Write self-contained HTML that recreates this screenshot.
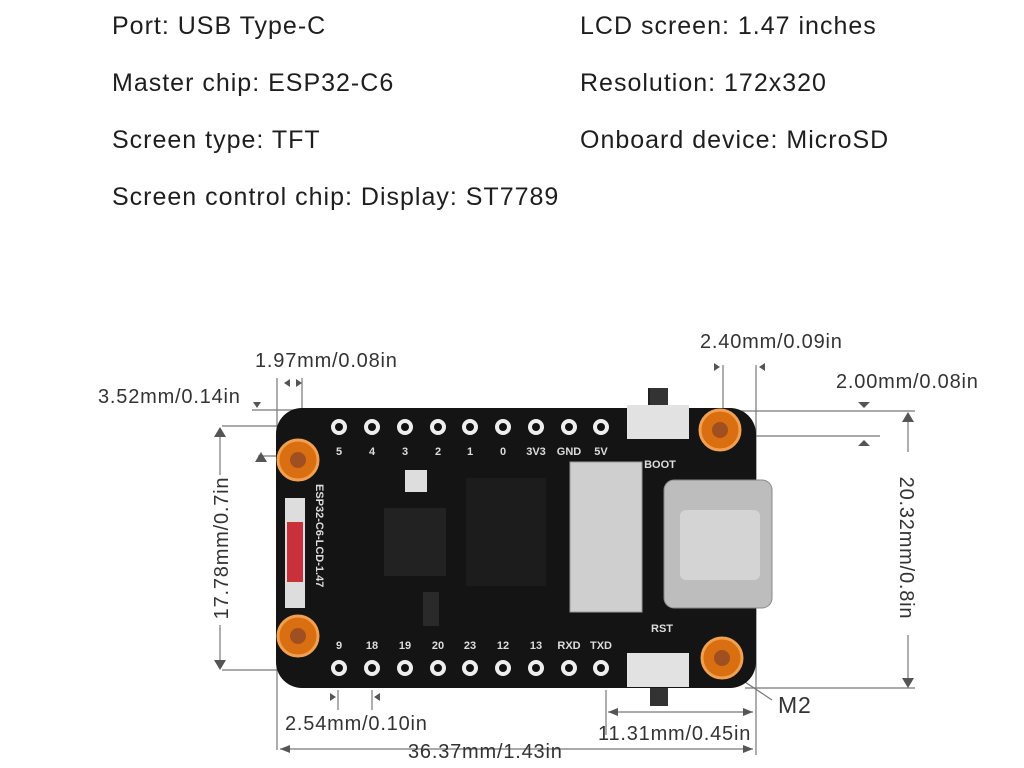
<!DOCTYPE html>
<html><head><meta charset="utf-8"><style>
html,body{margin:0;padding:0;background:#fff;}
body{width:1024px;height:768px;overflow:hidden;position:relative;font-family:"Liberation Sans",sans-serif;}
.t{position:absolute;font-size:25px;letter-spacing:1px;color:#1e1e1e;white-space:nowrap;}
</style></head><body>
<div class="t" style="left:112px;top:12px">Port: USB Type-C</div>
<div class="t" style="left:112px;top:69px">Master chip: ESP32-C6</div>
<div class="t" style="left:112px;top:126px">Screen type: TFT</div>
<div class="t" style="left:112px;top:183px">Screen control chip: Display: ST7789</div>
<div class="t" style="left:580px;top:12px">LCD screen: 1.47 inches</div>
<div class="t" style="left:580px;top:69px">Resolution: 172x320</div>
<div class="t" style="left:580px;top:126px">Onboard device: MicroSD</div>
<svg width="1024" height="768" style="position:absolute;left:0;top:0" font-family="Liberation Sans, sans-serif">
<g stroke="#777" stroke-width="1.2" fill="none">
<line x1="277" y1="378" x2="277" y2="750"/>
<line x1="302" y1="378" x2="302" y2="420"/>
<line x1="252" y1="410" x2="300" y2="410"/>
<line x1="222" y1="426" x2="285" y2="426"/>
<line x1="258" y1="456" x2="285" y2="456"/>
<line x1="222" y1="670" x2="285" y2="670"/>
<line x1="220" y1="430" x2="220" y2="475"/>
<line x1="220" y1="625" x2="220" y2="665"/>
<line x1="338" y1="690" x2="338" y2="710"/>
<line x1="372" y1="690" x2="372" y2="710"/>
<line x1="723" y1="365" x2="723" y2="410"/>
<line x1="756" y1="365" x2="756" y2="755"/>
<line x1="740" y1="411" x2="915" y2="411"/>
<line x1="756" y1="436" x2="880" y2="436"/>
<line x1="908" y1="418" x2="908" y2="452"/>
<line x1="908" y1="635" x2="908" y2="683"/>
<line x1="745" y1="688" x2="915" y2="688"/>
<line x1="606" y1="690" x2="606" y2="735"/>
<line x1="608" y1="712" x2="753" y2="712"/>
<line x1="280" y1="749" x2="753" y2="749"/>
<line x1="742" y1="680" x2="772" y2="700"/>
</g>
<g fill="#555">
<polygon points="284,383 290,379 290,387"/><polygon points="296,383 290,379 290,387" transform="translate(6,0)"/>
<polygon points="258,404 262,410 266,404" transform="translate(-5,-2)"/>
<polygon points="258,462 264,452 270,462" transform="translate(-3,0)"/>
<polygon points="214,437 220,427 226,437"/><polygon points="214,660 220,670 226,660"/>
<polygon points="330,693 336,697 330,701"/><polygon points="380,693 374,697 380,701"/>
<polygon points="714,363 720,367 714,371"/><polygon points="765,363 759,367 765,371"/>
<polygon points="860,402 866,408 872,402" transform="translate(-2,0)"/>
<polygon points="860,446 866,440 872,446" transform="translate(-2,0)"/>
<polygon points="902,422 908,412 914,422"/><polygon points="902,678 908,688 914,678"/>
<polygon points="608,712 618,708 618,716"/><polygon points="753,712 743,708 743,716"/>
<polygon points="280,749 290,745 290,753"/><polygon points="753,749 743,745 743,753"/>
</g>
<g font-size="20" fill="#333" letter-spacing="0.8">
<text x="255" y="367">1.97mm/0.08in</text>
<text x="98" y="403">3.52mm/0.14in</text>
<text x="700" y="348">2.40mm/0.09in</text>
<text x="836" y="388">2.00mm/0.08in</text>
<text x="285" y="730">2.54mm/0.10in</text>
<text x="598" y="740">11.31mm/0.45in</text>
<text x="408" y="758">36.37mm/1.43in</text>
<text x="778" y="713" font-size="23">M2</text>
<text transform="translate(228,548) rotate(-90)" text-anchor="middle">17.78mm/0.7in</text>
<text transform="translate(900,548) rotate(90)" text-anchor="middle">20.32mm/0.8in</text>
</g>
<rect x="648" y="388" width="20" height="300" fill="#222"/>
<rect x="650" y="388" width="18" height="20" fill="#333"/>
<rect x="650" y="686" width="18" height="20" fill="#333"/>
<rect x="276" y="408" width="480" height="280" rx="26" fill="#141414"/>
<g fill="#eee">
<circle cx="339" cy="427" r="8"/><circle cx="372" cy="427" r="8"/><circle cx="405" cy="427" r="8"/><circle cx="438" cy="427" r="8"/><circle cx="470" cy="427" r="8"/><circle cx="503" cy="427" r="8"/><circle cx="536" cy="427" r="8"/><circle cx="569" cy="427" r="8"/><circle cx="601" cy="427" r="8"/>
<circle cx="339" cy="668" r="8"/><circle cx="372" cy="668" r="8"/><circle cx="405" cy="668" r="8"/><circle cx="438" cy="668" r="8"/><circle cx="470" cy="668" r="8"/><circle cx="503" cy="668" r="8"/><circle cx="536" cy="668" r="8"/><circle cx="569" cy="668" r="8"/><circle cx="601" cy="668" r="8"/>
</g>
<g fill="#111">
<circle cx="339" cy="427" r="4"/><circle cx="372" cy="427" r="4"/><circle cx="405" cy="427" r="4"/><circle cx="438" cy="427" r="4"/><circle cx="470" cy="427" r="4"/><circle cx="503" cy="427" r="4"/><circle cx="536" cy="427" r="4"/><circle cx="569" cy="427" r="4"/><circle cx="601" cy="427" r="4"/>
<circle cx="339" cy="668" r="4"/><circle cx="372" cy="668" r="4"/><circle cx="405" cy="668" r="4"/><circle cx="438" cy="668" r="4"/><circle cx="470" cy="668" r="4"/><circle cx="503" cy="668" r="4"/><circle cx="536" cy="668" r="4"/><circle cx="569" cy="668" r="4"/><circle cx="601" cy="668" r="4"/>
</g>
<g font-size="11" font-weight="bold" fill="#ddd" text-anchor="middle">
<text x="339" y="455">5</text><text x="372" y="455">4</text><text x="405" y="455">3</text><text x="438" y="455">2</text><text x="470" y="455">1</text><text x="503" y="455">0</text><text x="536" y="455">3V3</text><text x="569" y="455">GND</text><text x="601" y="455">5V</text>
<text x="339" y="649">9</text><text x="372" y="649">18</text><text x="405" y="649">19</text><text x="438" y="649">20</text><text x="470" y="649">23</text><text x="503" y="649">12</text><text x="536" y="649">13</text><text x="569" y="649">RXD</text><text x="601" y="649">TXD</text>
<text x="660" y="468">BOOT</text><text x="662" y="632">RST</text>
</g>
<text transform="translate(316,484) rotate(90)" font-size="11" font-weight="bold" fill="#ddd">ESP32-C6-LCD-1.47</text>
<rect x="384" y="508" width="62" height="68" fill="#222"/>
<rect x="466" y="478" width="80" height="108" fill="#1c1c1c"/>
<rect x="423" y="592" width="16" height="34" fill="#2a2a2a"/>
<rect x="405" y="470" width="22" height="22" fill="#ddd"/>
<rect x="285" y="498" width="20" height="110" fill="#ddd"/>
<rect x="287" y="522" width="16" height="60" fill="#c8303a"/>
<rect x="570" y="462" width="72" height="150" fill="#cfcfcf" stroke="#999"/>
<rect x="664" y="480" width="108" height="128" rx="10" fill="#bdbdbd" stroke="#888"/>
<rect x="680" y="510" width="80" height="70" rx="6" fill="#d4d4d4"/>
<rect x="627" y="405" width="62" height="34" fill="#e2e2e2"/>
<rect x="627" y="653" width="62" height="34" fill="#e2e2e2"/>
<g fill="#d96f10" stroke="#f0a050" stroke-width="3">
<circle cx="298" cy="460" r="20"/><circle cx="298" cy="636" r="20"/>
<circle cx="720" cy="430" r="20"/><circle cx="722" cy="658" r="20"/>
</g>
<g fill="#a05020"><circle cx="298" cy="460" r="8"/><circle cx="298" cy="636" r="8"/><circle cx="720" cy="430" r="8"/><circle cx="722" cy="658" r="8"/></g>
</svg>
</body></html>
